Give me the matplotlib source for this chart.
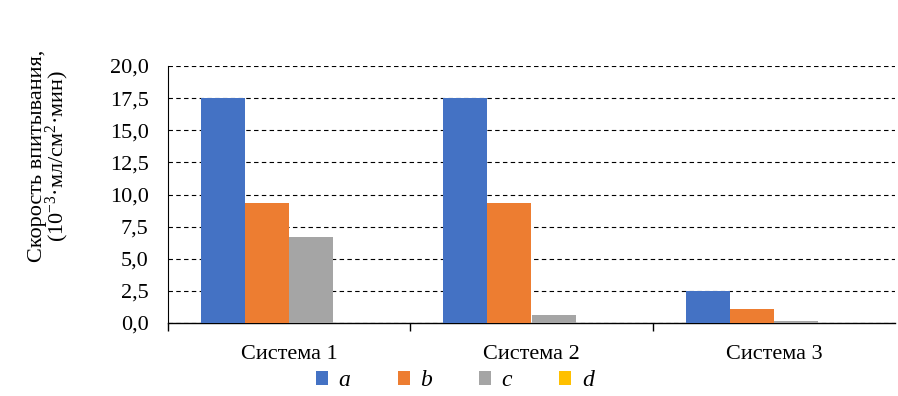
import numpy as np
import matplotlib
matplotlib.use("Agg")
import matplotlib.pyplot as plt

plt.rcParams['font.family'] = ['Liberation Serif', 'DejaVu Serif']
plt.rcParams['mathtext.fontset'] = 'custom'
plt.rcParams['mathtext.rm'] = 'Liberation Serif'
plt.rcParams['mathtext.it'] = 'Liberation Serif:italic'

categories = ["Система 1", "Система 2", "Система 3"]
series = ["a", "b", "c", "d"]
vals_a = [17.5, 17.5, 2.5]
vals_b = [9.35, 9.35, 1.1]
vals_c = [6.7, 0.62, 0.15]
vals_d = [0.0, 0.0, 0.0]
colors = ["#4472C4", "#ED7D31", "#A5A5A5", "#FFC000"]
yticks = [0, 2.5, 5, 7.5, 10, 12.5, 15, 17.5, 20]

fig = plt.figure(figsize=(8.98, 3.96), dpi=100)
ax = fig.add_axes([168 / 898, 1 - 323 / 396, (895 - 168) / 898, (323 - 66) / 396])

x = np.arange(len(categories))
w = 0.182
handles = []
for i, (name, vals) in enumerate(zip(series, [vals_a, vals_b, vals_c, vals_d])):
    h = ax.bar(x + (i - 1.5) * w, vals, w, color=colors[i], label=name, zorder=3)
    handles.append(h)

ax.set_xlim(-0.5, 2.5)
ax.set_ylim(0, 20)
ax.set_yticks(yticks)
ax.set_yticklabels([f"{v:.1f}".replace(".", ",") for v in yticks], fontsize=16)
ax.yaxis.grid(True, color="black", linestyle=(0, (4, 3)), linewidth=0.8, zorder=0)
ax.tick_params(axis="y", length=0, pad=14)

# category labels without ticks, separator ticks between categories
ax.set_xticks(x)
ax.set_xticklabels(categories, fontsize=16)
ax.tick_params(axis="x", length=0, pad=16)
ax.set_xticks([-0.5, 0.5, 1.5], minor=True)
ax.tick_params(axis="x", which="minor", length=6, direction="out", width=1)

for s in ["top", "right"]:
    ax.spines[s].set_visible(False)
ax.spines["left"].set_linewidth(0.8)
ax.spines["bottom"].set_linewidth(1.0)

ax.set_ylabel("Скорость впитывания,\n(10$^{-3}$·мл/см$^{2}$·мин)", fontsize=16,
              linespacing=0.85)
ax.yaxis.set_label_coords(-0.133, 0.65)

leg = fig.legend(handles, series, loc="center", bbox_to_anchor=(455 / 898, 1 - 381 / 396),
                 ncol=4, frameon=False, prop={"style": "italic", "size": 17},
                 handlelength=0.5, handleheight=0.5, columnspacing=2.0, handletextpad=0.45)

fig.savefig("out.png", dpi=100)
